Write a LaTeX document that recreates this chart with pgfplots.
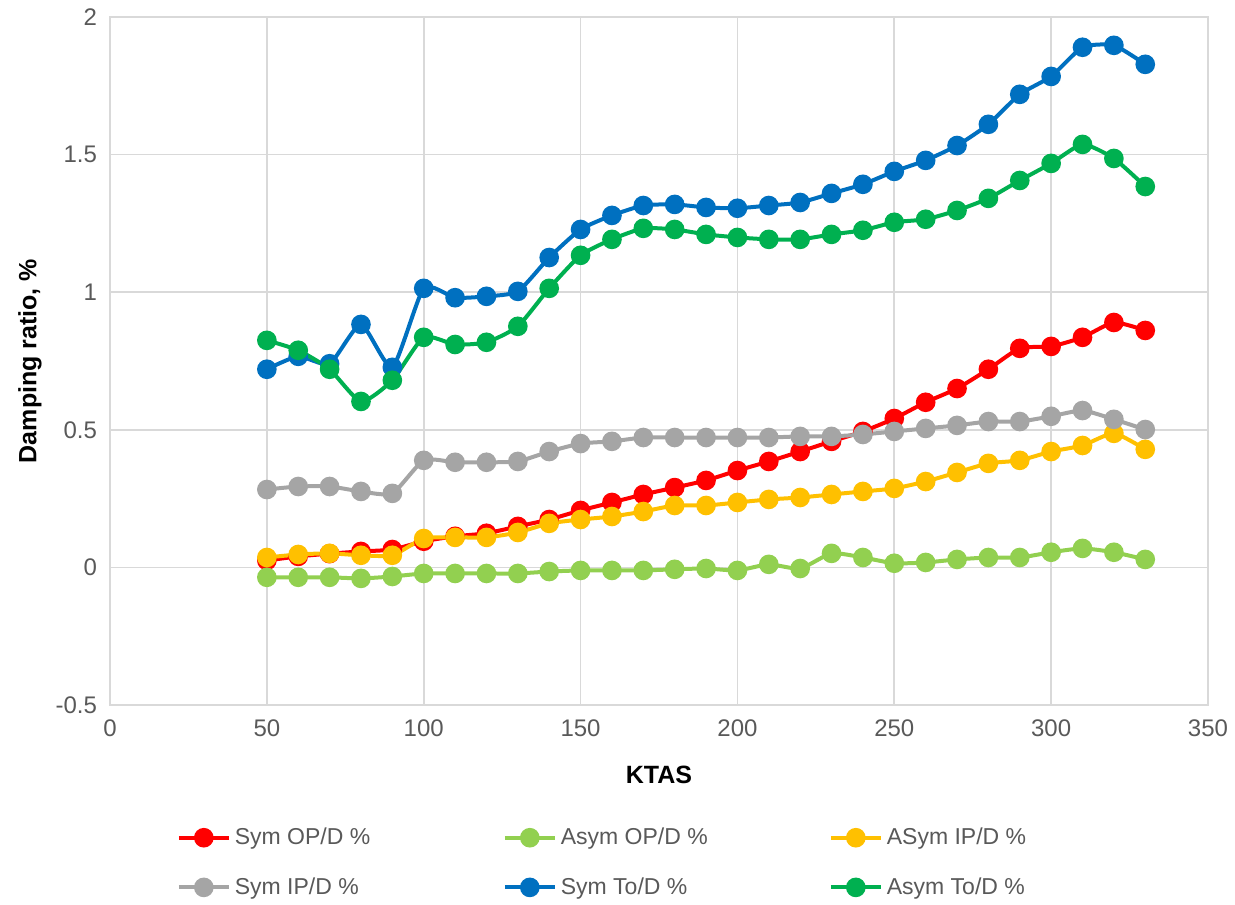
\documentclass[border=0pt]{standalone}
\usepackage{fontspec}
\setmainfont{Liberation Sans}
\usepackage{pgfplots}
\pgfplotsset{compat=1.18}
\definecolor{cRed}{HTML}{FF0000}
\definecolor{cLGreen}{HTML}{92D050}
\definecolor{cOrange}{HTML}{FFC000}
\definecolor{cGray}{HTML}{A5A5A5}
\definecolor{cBlue}{HTML}{0070C0}
\definecolor{cGreen}{HTML}{00B050}
\definecolor{gridc}{HTML}{D9D9D9}
\definecolor{tickc}{HTML}{595959}
\newcommand{\legbox}[1]{\makebox[132pt][l]{#1}}
\begin{document}
\begin{tikzpicture}
\path[use as bounding box] (0,0) rectangle (617.5pt,452pt);
\begin{axis}[
  at={(55pt,99.5pt)}, anchor=south west,
  scale only axis, width=549pt, height=344pt,
  xmin=0, xmax=350, ymin=-0.5, ymax=2,
  xtick={0,50,...,350}, ytick={-0.5,0,0.5,1,1.5,2},
  xticklabels={0,50,100,150,200,250,300,350},
  yticklabels={-0.5,0,0.5,1,1.5,2},
  major tick length=0pt,
  grid=major, major grid style={gridc, line width=0.8pt},
  axis line style={gridc, line width=0.8pt},
  tick label style={font=\fontsize{12}{14}\selectfont, text=tickc},
  xticklabel style={yshift=-4pt},
  yticklabel style={xshift=-3pt},
  xlabel={\textbf{KTAS}}, ylabel={\textbf{Damping ratio, \%}},
  label style={font=\fontsize{12.5}{14}\selectfont},
  xlabel style={at={(axis description cs:0.5,-0.1017)}, anchor=center},
  ylabel style={at={(axis description cs:-0.073,0.5)}, anchor=center},
  legend columns=3,
  legend style={at={(axis description cs:0.0605,-0.229)}, anchor=west, draw=none, inner sep=0pt,
    font=\fontsize{11.5}{13}\selectfont, text=tickc, cells={anchor=west},
    /tikz/every even column/.append style={column sep=0pt},
    row sep=11pt},
  legend image code/.code={\draw[#1, mark repeat=2, mark phase=2] plot coordinates {(0pt,0pt) (12.5pt,0pt) (25pt,0pt)};},
  every axis plot/.append style={line width=2pt, mark=*, mark size=3.9pt, smooth, tension=0.35},
]
\addplot[cRed, mark options={fill=cRed, draw=cRed}] coordinates {
(50,0.025)(60,0.04)(70,0.05)(80,0.058)(90,0.065)(100,0.095)(110,0.113)(120,0.124)(130,0.149)(140,0.174)
(150,0.207)(160,0.236)(170,0.265)(180,0.29)(190,0.316)(200,0.352)(210,0.385)(220,0.421)(230,0.458)(240,0.494)
(250,0.541)(260,0.6)(270,0.65)(280,0.72)(290,0.796)(300,0.803)(310,0.836)(320,0.89)(330,0.861)};
\addlegendentry{\legbox{Sym OP/D \%}}
\addplot[cLGreen, mark options={fill=cLGreen, draw=cLGreen}] coordinates {
(50,-0.036)(60,-0.036)(70,-0.036)(80,-0.04)(90,-0.033)(100,-0.022)(110,-0.022)(120,-0.022)(130,-0.022)(140,-0.015)
(150,-0.011)(160,-0.011)(170,-0.011)(180,-0.007)(190,-0.004)(200,-0.011)(210,0.011)(220,-0.004)(230,0.051)(240,0.036)
(250,0.015)(260,0.018)(270,0.029)(280,0.036)(290,0.036)(300,0.055)(310,0.069)(320,0.055)(330,0.029)};
\addlegendentry{\legbox{Asym OP/D \%}}
\addplot[cOrange, mark options={fill=cOrange, draw=cOrange}] coordinates {
(50,0.036)(60,0.047)(70,0.051)(80,0.044)(90,0.044)(100,0.105)(110,0.109)(120,0.109)(130,0.127)(140,0.16)
(150,0.174)(160,0.185)(170,0.203)(180,0.225)(190,0.225)(200,0.236)(210,0.247)(220,0.254)(230,0.265)(240,0.276)
(250,0.287)(260,0.312)(270,0.345)(280,0.378)(290,0.389)(300,0.421)(310,0.443)(320,0.487)(330,0.429)};
\addlegendentry{ASym IP/D \%}
\addplot[cGray, mark options={fill=cGray, draw=cGray}] coordinates {
(50,0.283)(60,0.294)(70,0.294)(80,0.276)(90,0.269)(100,0.389)(110,0.382)(120,0.382)(130,0.385)(140,0.421)
(150,0.45)(160,0.458)(170,0.472)(180,0.472)(190,0.472)(200,0.472)(210,0.472)(220,0.476)(230,0.476)(240,0.483)
(250,0.494)(260,0.505)(270,0.516)(280,0.53)(290,0.53)(300,0.549)(310,0.57)(320,0.538)(330,0.501)};
\addlegendentry{\legbox{Sym IP/D \%}}
\addplot[cBlue, mark options={fill=cBlue, draw=cBlue}] coordinates {
(50,0.72)(60,0.767)(70,0.74)(80,0.883)(90,0.727)(100,1.014)(110,0.98)(120,0.985)(130,1.003)(140,1.126)
(150,1.228)(160,1.279)(170,1.315)(180,1.319)(190,1.308)(200,1.305)(210,1.315)(220,1.326)(230,1.359)(240,1.392)
(250,1.439)(260,1.479)(270,1.533)(280,1.61)(290,1.719)(300,1.784)(310,1.89)(320,1.897)(330,1.828)};
\addlegendentry{\legbox{Sym To/D \%}}
\addplot[cGreen, mark options={fill=cGreen, draw=cGreen}] coordinates {
(50,0.825)(60,0.789)(70,0.72)(80,0.603)(90,0.68)(100,0.836)(110,0.81)(120,0.818)(130,0.876)(140,1.014)
(150,1.134)(160,1.192)(170,1.232)(180,1.228)(190,1.21)(200,1.199)(210,1.192)(220,1.192)(230,1.21)(240,1.225)
(250,1.254)(260,1.265)(270,1.297)(280,1.341)(290,1.406)(300,1.468)(310,1.537)(320,1.486)(330,1.384)};
\addlegendentry{Asym To/D \%}
\end{axis}
\end{tikzpicture}
\end{document}
